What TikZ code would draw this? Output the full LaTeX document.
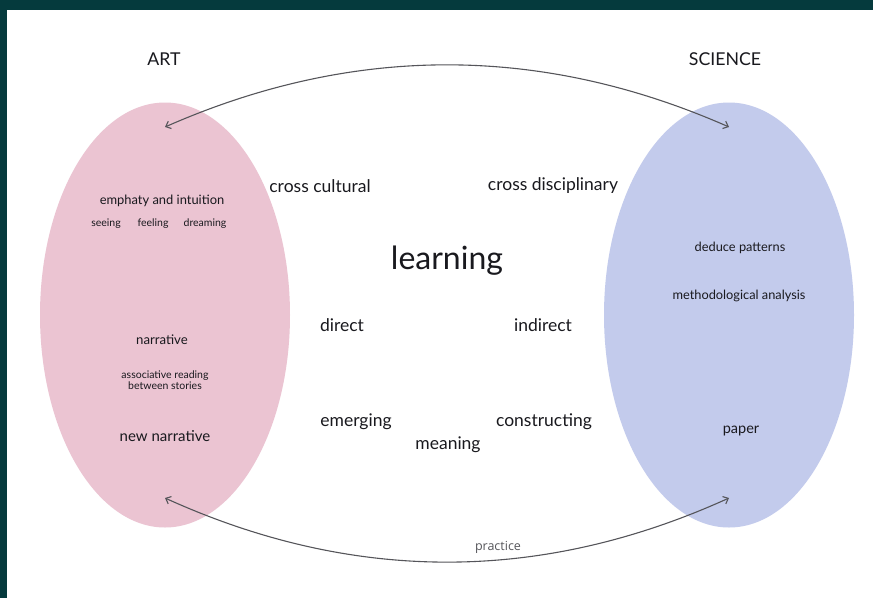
\documentclass[tikz,border=0pt]{standalone}
\usepackage{fontspec}
\setmainfont{Lato}
\newfontfamily\practicefont{Open Sans}
\usetikzlibrary{arrows.meta,shapes.geometric}
\definecolor{frame}{RGB}{5,58,61}
\definecolor{artpink}{RGB}{235,196,210}
\definecolor{sciblue}{RGB}{195,203,236}
\definecolor{arrowgrey}{RGB}{85,85,90}
\definecolor{ink}{RGB}{25,25,30}
\tikzset{
  field/.style={ellipse, draw=none, minimum width=250pt, minimum height=425pt, inner sep=0pt},
  lbl/.style={inner sep=0pt, text=ink, font=\fontsize{#1}{#1}\selectfont},
  lbl/.default=15,
  link/.style={draw=arrowgrey, line width=1.1pt, {Straight Barb[length=4.5pt,width=8pt]}-{Straight Barb[length=4.5pt,width=8pt]}}
}
\begin{document}
\begin{tikzpicture}[x=1pt,y=-1pt]
  % frame and page
  \fill[frame] (0,0) rectangle (873,598);
  \fill[white] (7,10) rectangle (873,598);
  \useasboundingbox (0,0) rectangle (873,598);

  % the two fields
  \node[field, fill=artpink] (art) at (165,315) {};
  \node[field, fill=sciblue] (sci) at (729,315) {};

  % arrow ends
  \coordinate (artTop) at (165,127);
  \coordinate (sciTop) at (729,127);
  \coordinate (artBot) at (165,498);
  \coordinate (sciBot) at (729,498);

  % headings
  \node[lbl=17.7] (artTitle) at (164,59) {ART};
  \node[lbl=17.7] (sciTitle) at (725,59) {SCIENCE};

  % connecting arcs
  \draw[link] (artTop) .. controls (353,44.3) and (541,44.3) .. (sciTop);
  \draw[link] (artBot) .. controls (353,583.3) and (541,583.3) .. (sciBot);
  \node[inner sep=0pt, text=arrowgrey, font=\practicefont\fontsize{12.5}{12.5}\selectfont] (practice) at (498,547) {practice};

  % art side
  \node[lbl=12.9] (empathy) at (162,201) {emphaty and intuition};
  \node[lbl=10.5] (seeing) at (106,224) {seeing};
  \node[lbl=10.5] (feeling) at (153,224) {feeling};
  \node[lbl=10.5] (dreaming) at (205,224) {dreaming};
  \node[lbl=13.2] (narrative) at (162,340) {narrative};
  \node[lbl=10.5, align=center] (assoc) at (165,380) {associative reading\\[0.5pt]between stories};
  \node[lbl=15] (newnarr) at (165,436) {new narrative};

  % middle
  \node[lbl=17.5] (cultural) at (320,186) {cross cultural};
  \node[lbl=17.5] (discip) at (553,186) {cross disciplinary};
  \node[lbl=32] (learning) at (447,261) {learning};
  \node[lbl=17.5] (direct) at (342,325) {direct};
  \node[lbl=17.5] (indirect) at (543,325) {indirect};
  \node[lbl=17.5] (emerging) at (356,422) {emerging};
  \node[lbl=17.5] (constructing) at (544,422) {constructing};
  \node[lbl=17.5] (meaning) at (448,445) {meaning};

  % science side
  \node[lbl=12.8] (deduce) at (740,248) {deduce patterns};
  \node[lbl=12.8] (method) at (739,296) {methodological analysis};
  \node[lbl=14.5] (paper) at (741,431) {paper};
\end{tikzpicture}
\end{document}
